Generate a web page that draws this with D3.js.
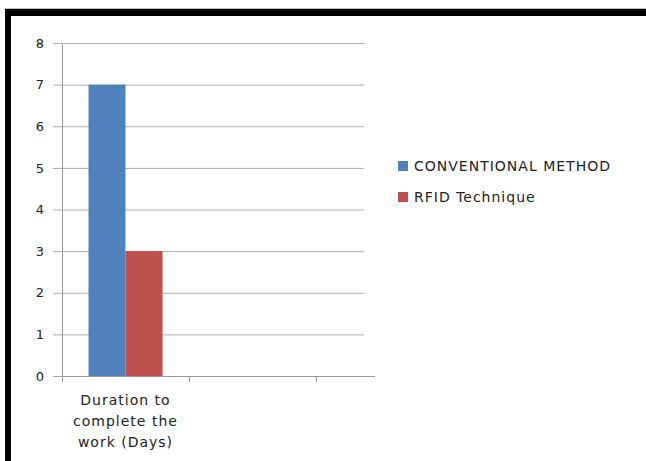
<!DOCTYPE html>
<html>
<head>
<meta charset="utf-8">
<script src="https://cdn.jsdelivr.net/npm/d3@7"></script>
<style>
body{margin:0;background:#fff;}
svg{display:block;}
text{font-family:"DejaVu Sans",sans-serif;fill:#222;}
</style>
</head>
<body>
<script>
// data
var categories=["Duration to complete the work (Days)","cat2","cat3"];
var catLabels=[["Duration to","complete the","work (Days)"],[],[]];
var seriesNames=["CONVENTIONAL METHOD","RFID Technique"];
var conventional=[7,null,null];
var rfid=[3,null,null];
var seriesColors=["#4F81BD","#C0504D"];
var yTicks=[0,1,2,3,4,5,6,7,8];

var W=646,H=461;
var pLeft=62,pRight=372,pTop=43,pBottom=376;

var svg=d3.select("body").append("svg").attr("width",W).attr("height",H);

// frame
svg.append("rect").attr("x",5).attr("y",9).attr("width",W-5).attr("height",7).attr("fill","#000");
svg.append("rect").attr("x",5).attr("y",9).attr("width",6).attr("height",H-9).attr("fill","#000");
svg.append("line").attr("x1",5).attr("x2",W).attr("y1",8.5).attr("y2",8.5).attr("stroke","#bbb");

var y=d3.scaleLinear().domain([0,8]).range([pBottom,pTop]);
var x=d3.scaleBand().domain(categories).range([pLeft,pLeft+3*127]).padding(0);
var xs=d3.scaleBand().domain(seriesNames).range([26.5,x.bandwidth()-26.5]).padding(0);

// gridlines + y axis
var gy=svg.append("g").attr("transform","translate("+pLeft+",0)")
  .call(d3.axisLeft(y).tickValues(yTicks).tickSize(9).tickPadding(9).tickFormat(d3.format("d")));
gy.select(".domain").attr("stroke","#999");
gy.selectAll(".tick line").attr("stroke","#aaa");
gy.selectAll(".tick text").style("font-size","13px").attr("fill","#222");
gy.selectAll(".tick").append("line").attr("x1",0).attr("x2",pRight-pLeft-8).attr("stroke","#b0b0b0");
gy.select(".domain").attr("d","M0.5,"+pTop+"V"+pBottom);

// bars
var rows=categories.map(function(c,i){return {cat:c,vals:[conventional[i],rfid[i]]};});
var g=svg.selectAll(".grp").data(rows).enter().append("g").attr("class","grp")
  .attr("transform",function(d){return "translate("+x(d.cat)+",0)";});
g.selectAll("rect").data(function(d){return d.vals.map(function(v,j){return {v:v,s:seriesNames[j],c:seriesColors[j]};}).filter(function(e){return e.v!=null;});})
  .enter().append("rect")
  .attr("x",function(d){return xs(d.s);})
  .attr("width",xs.bandwidth())
  .attr("y",function(d){return y(d.v);})
  .attr("height",function(d){return pBottom-y(d.v);})
  .attr("fill",function(d){return d.c;});

// x axis
svg.append("line").attr("x1",pLeft).attr("x2",pRight+3).attr("y1",pBottom+0.5).attr("y2",pBottom+0.5).attr("stroke","#999");
svg.selectAll(".xt").data(categories).enter().append("line").attr("class","xt")
  .attr("x1",function(d){return Math.round(x(d))+0.5;}).attr("x2",function(d){return Math.round(x(d))+0.5;})
  .attr("y1",pBottom).attr("y2",pBottom+6).attr("stroke","#999");
svg.selectAll(".xl").data(categories).enter().append("text").attr("class","xl")
  .attr("text-anchor","middle").style("font-size","14px").style("letter-spacing","1px")
  .attr("x",function(d){return x(d)+x.bandwidth()/2;})
  .each(function(d,i){
    var t=d3.select(this);
    catLabels[i].forEach(function(l,k){t.append("tspan").attr("x",x(d)+x.bandwidth()/2).attr("y",405+k*21).text(l);});
  });

// legend
var lg=svg.selectAll(".lg").data(seriesNames).enter().append("g").attr("class","lg")
  .attr("transform",function(d,i){return "translate(398,"+(161+i*31)+")";});
lg.append("rect").attr("width",10).attr("height",10).attr("fill",function(d,i){return seriesColors[i];});
lg.append("text").attr("x",16).attr("y",10).style("font-size","14px").style("letter-spacing","1px").text(function(d){return d;});
</script>
</body>
</html>
